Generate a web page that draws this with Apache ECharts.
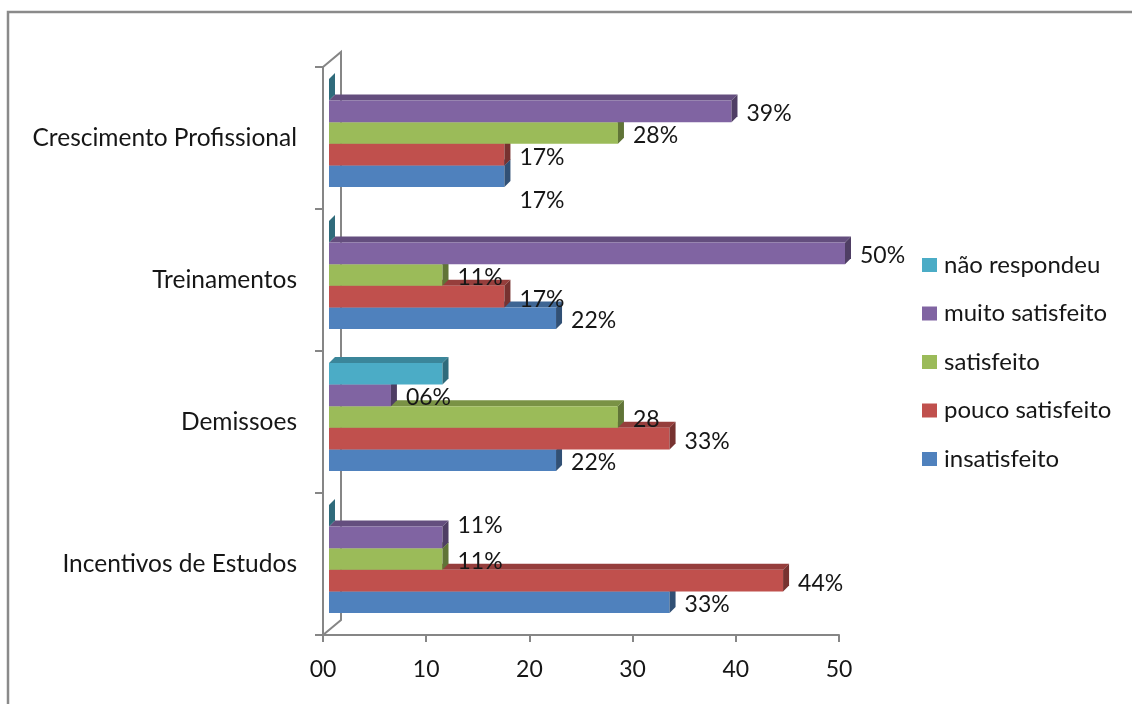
<!DOCTYPE html>
<html>
<head>
<meta charset="utf-8">
<title>Satisfação</title>
<script src="https://cdn.jsdelivr.net/npm/echarts@6/dist/echarts.min.js"></script>
<style>
  html, body { margin: 0; padding: 0; background: #ffffff; }
  #chart { width: 1132px; height: 704px; }
</style>
</head>
<body>
<div id="chart"></div>
<script>
// Categories, listed from the bottom of the chart to the top
const categories = ['Incentivos de Estudos', 'Demissoes', 'Treinamentos', 'Crescimento Profissional'];

// Series names, in stacking order inside each group (bottom to top)
const seriesNames = ['insatisfeito', 'pouco satisfeito', 'satisfeito', 'muito satisfeito', 'não respondeu'];

// Values per series (same order as categories)
const insatisfeito    = [33, 22, 22, 17];
const poucoSatisfeito = [44, 33, 17, 17];
const satisfeito      = [11, 28, 11, 28];
const muitoSatisfeito = [11, 6, 50, 39];
const naoRespondeu    = [0, 11, 0, 0];

// Value labels as printed next to each bar
const insatisfeitoLabels    = ['33%', '22%', '22%', '17%'];
const poucoSatisfeitoLabels = ['44%', '33%', '17%', '17%'];
const satisfeitoLabels      = ['11%', '28', '11%', '28%'];
const muitoSatisfeitoLabels = ['11%', '06%', '50%', '39%'];
const naoRespondeuLabels    = ['', '', '', ''];

// Value axis tick labels (0..50 step 10)
const xTickLabels = ['00', '10', '20', '30', '40', '50'];

const seriesValues = [insatisfeito, poucoSatisfeito, satisfeito, muitoSatisfeito, naoRespondeu];
const seriesLabels = [insatisfeitoLabels, poucoSatisfeitoLabels, satisfeitoLabels, muitoSatisfeitoLabels, naoRespondeuLabels];
const seriesColors = ['#4F81BD', '#C0504D', '#9BBB59', '#8064A2', '#4BACC6'];

// Oblique 3D look: wall depth, bar placement inside the depth, bar thickness
const DEPTH = { wallX: 18, wallY: -15, barX: 6, barY: -5, faceX: 6, faceY: -6 };
// Hand-moved value labels (vertical shift in px), keyed "series:category"
const labelShift = { '0:3': 22, '3:0': -14 };

const FONT = 'Lato, "Open Sans", sans-serif';
const TEXT_COLOR = '#161616';
const AXIS_COLOR = '#868686';

function shade(hex, k) {
  const n = parseInt(hex.slice(1), 16);
  const r = Math.round(((n >> 16) & 255) * k);
  const g = Math.round(((n >> 8) & 255) * k);
  const b = Math.round((n & 255) * k);
  return 'rgb(' + r + ',' + g + ',' + b + ')';
}

function makePrismRenderer(slot) {
  const color = seriesColors[slot];
  const topColor = shade(color, 0.78);
  const sideColor = shade(color, 0.62);
  const count = seriesNames.length;
  return function (params, api) {
    const v = api.value(0);
    const c = api.value(1);
    const p0 = api.coord([0, c]);
    const p1 = api.coord([v, c]);
    const band = api.size([0, 1])[1];
    const barH = band * 0.76 / count;
    const groupTop = p0[1] - barH * count / 2;
    const yTop = groupTop + (count - 1 - slot) * barH + DEPTH.barY;
    const yBot = yTop + barH;
    const xL = p0[0] + DEPTH.barX;
    const xR = p1[0] + DEPTH.barX;
    const fx = DEPTH.faceX, fy = DEPTH.faceY;
    const children = [
      { type: 'polygon', shape: { points: [[xL, yTop], [xL + fx, yTop + fy], [xR + fx, yTop + fy], [xR, yTop]] },
        style: { fill: topColor } },
      { type: 'rect', shape: { x: xL, y: yTop, width: Math.max(0, xR - xL), height: barH },
        style: { fill: color } },
      { type: 'polygon', shape: { points: [[xR, yTop], [xR + fx, yTop + fy], [xR + fx, yBot + fy], [xR, yBot]] },
        style: { fill: sideColor } }
    ];
    const txt = seriesLabels[slot][params.dataIndex];
    if (txt) {
      const shift = labelShift[slot + ':' + params.dataIndex] || 0;
      children.push({
        type: 'text',
        z2: 10,
        style: {
          text: txt, x: xR + 15, y: (yTop + yBot) / 2 + 2.5 + shift,
          fill: TEXT_COLOR, font: '23px ' + FONT,
          align: 'left', verticalAlign: 'middle'
        }
      });
    }
    return { type: 'group', children: children };
  };
}

// Left side wall of the 3D box, drawn from the grid rectangle
function renderWall(params, api) {
  const cs = params.coordSys;
  const x0 = cs.x, yT = cs.y, yB = cs.y + cs.height;
  const bx = x0 + DEPTH.wallX;
  const style = { stroke: AXIS_COLOR, lineWidth: 2, fill: null };
  return {
    type: 'group',
    children: [
      { type: 'polyline', shape: { points: [[x0, yT], [bx, yT + DEPTH.wallY], [bx, yB + DEPTH.wallY], [x0, yB]] }, style: style }
    ]
  };
}

const series = seriesNames.map(function (name, i) {
  return {
    name: name,
    type: 'custom',
    clip: false,
    renderItem: makePrismRenderer(i),
    itemStyle: { color: seriesColors[i] },
    encode: { x: 0, y: 1 },
    data: seriesValues[i].map(function (v, c) { return [v, c]; }),
    z: 3
  };
});
series.push({
  name: 'parede',
  type: 'custom',
  silent: true,
  clip: false,
  renderItem: renderWall,
  encode: { x: 0, y: 1 },
  data: [[0, 0]],
  z: 1
});

const chart = echarts.init(document.getElementById('chart'), null, { renderer: 'canvas' });
chart.setOption({
  backgroundColor: '#ffffff',
  animation: false,
  textStyle: { fontFamily: FONT },
  graphic: [
    { type: 'rect', shape: { x: 8, y: 12, width: 1200, height: 800 },
      style: { fill: null, stroke: '#8a8a8a', lineWidth: 2.5 }, silent: true }
  ],
  grid: { left: 323, right: 293, top: 67, bottom: 69, containLabel: false },
  legend: {
    orient: 'vertical',
    left: 917,
    top: 248,
    icon: 'rect',
    itemWidth: 15,
    itemHeight: 14,
    itemGap: 24.5,
    data: ['não respondeu', 'muito satisfeito', 'satisfeito', 'pouco satisfeito', 'insatisfeito'],
    textStyle: { fontFamily: FONT, fontSize: 24, lineHeight: 24, color: TEXT_COLOR, padding: [0, 0, 0, 2] }
  },
  xAxis: {
    type: 'value',
    min: 0,
    max: 50,
    interval: 10,
    axisLine: { show: true, lineStyle: { color: AXIS_COLOR, width: 2 } },
    axisTick: { show: true, length: 7, lineStyle: { color: AXIS_COLOR, width: 2 } },
    splitLine: { show: false },
    axisLabel: {
      margin: 23, fontSize: 23, fontFamily: FONT, color: TEXT_COLOR,
      formatter: function (v) { return xTickLabels[Math.round(v / 10)]; }
    }
  },
  yAxis: {
    type: 'category',
    data: categories,
    axisLine: { show: true, lineStyle: { color: AXIS_COLOR, width: 2 } },
    axisTick: { show: true, length: 8, lineStyle: { color: AXIS_COLOR, width: 2 } },
    axisLabel: { margin: 26, fontSize: 24.5, fontFamily: FONT, color: TEXT_COLOR, padding: [9, 0, 0, 0] }
  },
  series: series
});
</script>
</body>
</html>
